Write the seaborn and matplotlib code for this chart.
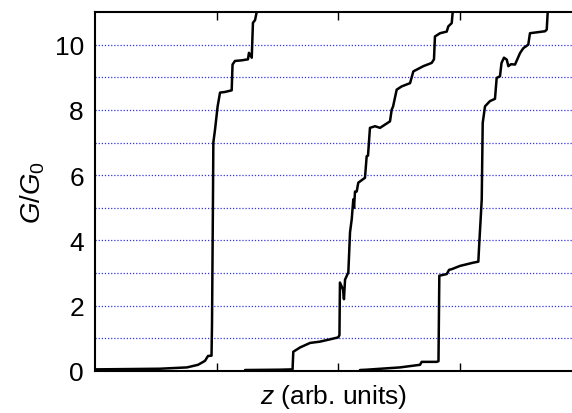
import matplotlib
matplotlib.use("Agg")
import matplotlib.pyplot as plt
import seaborn as sns
import pandas as pd

# Trace 1
z1 = [0.0, 0.288, 0.535, 0.757, 0.848, 0.905, 0.930, 0.959, 0.963, 0.971, 0.974, 0.988,
      1.009, 1.029, 1.070, 1.125, 1.132, 1.152, 1.210, 1.259, 1.267, 1.290, 1.300, 1.317, 1.331, 1.335]
g1 = [0.05, 0.06, 0.07, 0.11, 0.19, 0.31, 0.46, 0.47, 1.4, 5.3, 7.0, 7.4,
      8.1, 8.53, 8.55, 8.6, 9.39, 9.5, 9.52, 9.55, 9.75, 9.6, 10.67, 10.75, 11.0, 11.3]

# Trace 2
z2 = [1.235, 1.523, 1.626, 1.632, 1.687, 1.770, 1.852, 1.934, 2.002, 2.012, 2.016, 2.041,
      2.049, 2.058, 2.085, 2.099, 2.113, 2.126, 2.132, 2.140, 2.154, 2.167, 2.222, 2.236,
      2.247, 2.263, 2.305, 2.346, 2.387, 2.428, 2.442, 2.453, 2.483, 2.524, 2.593, 2.620,
      2.702, 2.771, 2.790, 2.798, 2.840, 2.895, 2.908, 2.936, 2.944, 2.948]
g2 = [0.03, 0.04, 0.05, 0.59, 0.72, 0.86, 0.90, 0.97, 1.03, 1.1, 2.71, 2.5,
      2.2, 2.8, 3.02, 4.25, 4.65, 5.26, 5.0, 5.5, 5.5, 5.77, 5.92, 6.58,
      6.6, 7.45, 7.5, 7.45, 7.55, 7.65, 8.01, 8.1, 8.62, 8.72, 8.82, 9.18,
      9.34, 9.44, 9.55, 10.25, 10.35, 10.4, 10.56, 10.66, 11.0, 11.3]

# Trace 3
z3 = [2.181, 2.236, 2.510, 2.675, 2.689, 2.812, 2.827, 2.834, 2.895, 2.914, 2.936, 3.004,
      3.114, 3.155, 3.163, 3.174, 3.183, 3.191, 3.210, 3.251, 3.292, 3.306, 3.333, 3.346,
      3.366, 3.389, 3.402, 3.424, 3.457, 3.498, 3.525, 3.566, 3.580, 3.704, 3.718, 3.726, 3.729]
g3 = [0.03, 0.04, 0.11, 0.19, 0.28, 0.28, 0.3, 2.92, 2.97, 3.1, 3.12, 3.22,
      3.32, 3.35, 3.93, 4.65, 5.26, 7.6, 8.11, 8.27, 8.34, 8.98, 9.03, 9.44,
      9.6, 9.54, 9.34, 9.4, 9.39, 9.74, 9.89, 10.0, 10.35, 10.41, 10.46, 11.0, 11.3]

y_ticks = [0, 2, 4, 6, 8, 10]
x_ticks = [1, 2, 3]
grid_levels = [1, 2, 3, 4, 5, 6, 7, 8, 9, 10]

df = pd.concat([
    pd.DataFrame({"z": z1, "G": g1, "trace": "1"}),
    pd.DataFrame({"z": z2, "G": g2, "trace": "2"}),
    pd.DataFrame({"z": z3, "G": g3, "trace": "3"}),
], ignore_index=True)

sns.set_theme(style="white")
plt.rcParams['font.family'] = ['Liberation Sans', 'DejaVu Sans']
plt.rcParams['mathtext.fontset'] = 'custom'
plt.rcParams['mathtext.it'] = 'Liberation Sans:italic'
plt.rcParams['mathtext.rm'] = 'Liberation Sans'

fig = plt.figure(figsize=(5.72, 4.14), dpi=100)
ax = fig.add_axes([95 / 572, 42 / 414, 486 / 572, 359 / 414])

for lv in grid_levels:
    ax.axhline(lv, color="#3333e8", linestyle=(0, (1, 1.5)), linewidth=0.9, zorder=1)

sns.lineplot(data=df, x="z", y="G", units="trace", estimator=None, sort=False,
             color="black", linewidth=1.8, ax=ax, legend=False, zorder=3)

ax.set_xlim(0, 4)
ax.set_ylim(0, 11)
ax.set_xticks(x_ticks)
ax.set_xticklabels([])
ax.set_yticks(y_ticks)
ax.set_yticklabels([str(t) for t in y_ticks], fontsize=19)
ax.tick_params(axis="x", direction="in", length=6, width=1, top=True, bottom=True, color="black")
ax.tick_params(axis="y", length=0, pad=8, labelcolor="black")

for s in ax.spines.values():
    s.set_color("black")
    s.set_linewidth(1.5)

ax.set_xlabel(r"$z$ (arb. units)", fontsize=19, color="black")
ax.set_ylabel(r"$G/G_{\mathit{0}}$", fontsize=20, color="black")
ax.xaxis.set_label_coords((333.5 - 95) / 486, -0.03)
ax.yaxis.set_label_coords(-0.098, 0.5)

fig.savefig("out.png", dpi=100)
